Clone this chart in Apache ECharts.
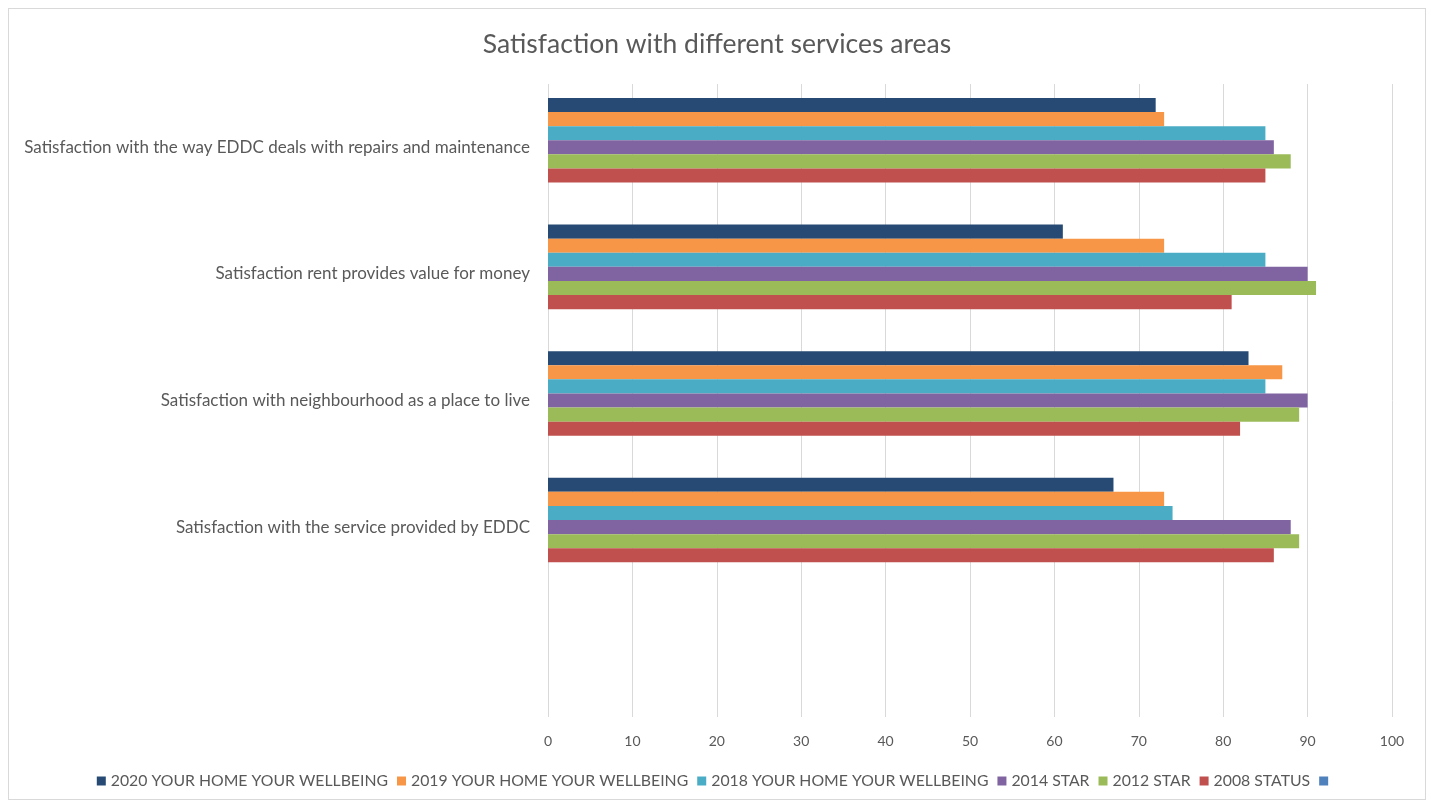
<!DOCTYPE html>
<html><head><meta charset="utf-8">
<script src="https://cdn.jsdelivr.net/npm/echarts@6/dist/echarts.min.js"></script>
<style>html,body{margin:0;padding:0;background:#fff}#c{width:1434px;height:807px}
#frame{position:absolute;left:8px;top:8px;width:1418px;height:792px;border:1px solid #d9d9d9;box-sizing:border-box;pointer-events:none}</style>
</head><body><div id="c"></div><div id="frame"></div>
<script>
const categories = [
  'Satisfaction with the way EDDC deals with repairs and maintenance',
  'Satisfaction rent provides value for money',
  'Satisfaction with neighbourhood as a place to live',
  'Satisfaction with the service provided by EDDC',
  ''
];
const seriesNames = ['2020 YOUR HOME YOUR WELLBEING','2019 YOUR HOME YOUR WELLBEING','2018 YOUR HOME YOUR WELLBEING','2014 STAR','2012 STAR','2008 STATUS',' '];
const s2020 = [72, 61, 83, 67, null];
const s2019 = [73, 73, 87, 73, null];
const s2018 = [85, 85, 85, 74, null];
const s2014 = [86, 90, 90, 88, null];
const s2012 = [88, 91, 89, 89, null];
const s2008 = [85, 81, 82, 86, null];
const sBlank = [null, null, null, null, null];
const xTicks = {min: 0, max: 100, interval: 10};
const colors = ['#264a73','#f79646','#4bacc6','#8064a2','#9bbb59','#c0504d','#4f81bd'];
const allData = [s2020, s2019, s2018, s2014, s2012, s2008, sBlank];

const chart = echarts.init(document.getElementById('c'));
const font = 'Lato, "Open Sans", sans-serif';
chart.setOption({
  animation: false,
  textStyle: {fontFamily: font},
  title: {text: 'Satisfaction with different services areas', left: 'center', top: 26,
    textStyle: {fontSize: 26.5, fontWeight: 'normal', color: '#595959', fontFamily: font}},
  legend: {bottom: 13, left: 'center', itemWidth: 9, itemHeight: 9, itemGap: 9, icon: 'rect',
    textStyle: {fontSize: 15.8, color: '#595959', fontFamily: font},
    data: seriesNames},
  grid: {left: 548, right: 42, top: 84, bottom: 90, containLabel: false},
  xAxis: {type: 'value', min: xTicks.min, max: xTicks.max, interval: xTicks.interval,
    axisLine: {show: false}, axisTick: {show: false},
    axisLabel: {fontSize: 14, color: '#595959', margin: 17, fontFamily: font},
    splitLine: {lineStyle: {color: '#d9d9d9'}}},
  yAxis: {type: 'category', data: categories, inverse: true,
    axisLine: {show: false}, axisTick: {show: false},
    axisLabel: {fontSize: 17, color: '#595959', margin: 18, fontFamily: font}},
  series: seriesNames.map((n, i) => ({
    name: n, type: 'bar', data: allData[i], barGap: '0%', barCategoryGap: '22%',
    itemStyle: {color: colors[i]}
  }))
});
</script></body></html>
